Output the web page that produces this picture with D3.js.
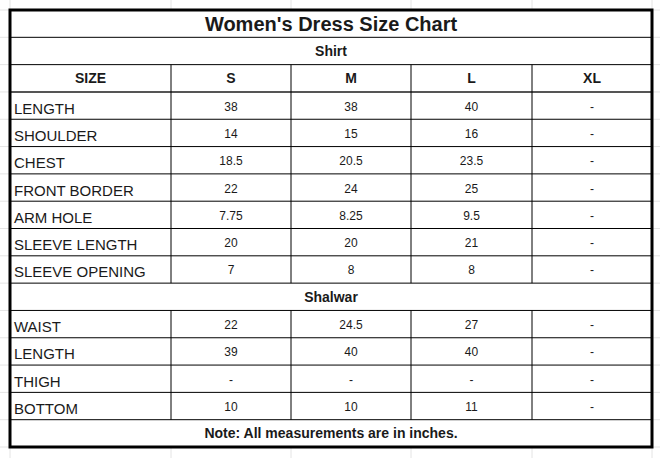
<!DOCTYPE html><html><head><meta charset="utf-8">
<script src="https://cdn.jsdelivr.net/npm/d3@7"></script>
<style>body{margin:0;background:#fff}</style></head><body>
<script>
const title="Women's Dress Size Chart";
const sizes=["S","M","L","XL"];
const shirtRows=["LENGTH","SHOULDER","CHEST","FRONT BORDER","ARM HOLE","SLEEVE LENGTH","SLEEVE OPENING"];
const shirtVals=[["38","38","40","-"],["14","15","16","-"],["18.5","20.5","23.5","-"],["22","24","25","-"],["7.75","8.25","9.5","-"],["20","20","21","-"],["7","8","8","-"]];
const shalwarRows=["WAIST","LENGTH","THIGH","BOTTOM"];
const shalwarVals=[["22","24.5","27","-"],["39","40","40","-"],["-","-","-","-"],["10","10","11","-"]];
const note="Note: All measurements are in inches.";

const W=660,H=458,L=10,R=652,T=10,B=447,N=16;
const svg=d3.select("body").append("svg").attr("width",W).attr("height",H).style("font-family","Arial, 'Liberation Sans', sans-serif");
const y=d3.scaleLinear().domain([0,N]).range([T,B]);
const cols=[L,171,291,411,532,R];
for(let i=-1;i<=N+1;i++) svg.append("line").attr("x1",0).attr("x2",W).attr("y1",y(i)).attr("y2",y(i)).attr("stroke","#e4e4e4");
cols.forEach(c=>svg.append("line").attr("x1",c).attr("x2",c).attr("y1",0).attr("y2",H).attr("stroke","#e4e4e4"));
svg.append("rect").attr("x",L).attr("y",T).attr("width",R-L).attr("height",B-T).attr("fill","#fff");
const g=svg.append("g");
function hline(i,w,c){g.append("line").attr("x1",L).attr("x2",R).attr("y1",y(i)).attr("y2",y(i)).attr("stroke",c||"#000").attr("stroke-width",w||1);}
function vlines(a,b){cols.slice(1,-1).forEach(c=>g.append("line").attr("x1",c).attr("x2",c).attr("y1",y(a)).attr("y2",y(b)).attr("stroke","#000"));}
function txt(x,i,s,o){g.append("text").attr("x",x).attr("y",y(i+0.5)+(o.dy||5)).attr("text-anchor",o.a||"middle").attr("font-size",o.fs||12).attr("font-weight",o.b?"bold":"normal").attr("fill","#1a1a1a").text(s);}
for(let i=1;i<N;i++) hline(i,i===3?2:1,i===3?"#555":"#000");
vlines(2,10);vlines(11,15);
const cx=j=>(cols[j+1]+cols[j+2])/2;
txt((L+R)/2,0,title,{fs:20,b:1,dy:7});
txt((L+R)/2,1,"Shirt",{fs:14,b:1});
txt((L+cols[1])/2,2,"SIZE",{fs:14,b:1});
sizes.forEach((s,j)=>txt(cx(j),2,s,{fs:14,b:1}));
shirtRows.forEach((r,i)=>{txt(L+4,3+i,r,{a:"start",fs:15,dy:8});shirtVals[i].forEach((v,j)=>txt(cx(j),3+i,v,{}));});
txt((L+R)/2,10,"Shalwar",{fs:14,b:1});
shalwarRows.forEach((r,i)=>{txt(L+4,11+i,r,{a:"start",fs:15,dy:8});shalwarVals[i].forEach((v,j)=>txt(cx(j),11+i,v,{}));});
txt((L+R)/2,15,note,{fs:14,b:1});
svg.append("rect").attr("x",L).attr("y",T).attr("width",R-L).attr("height",B-T).attr("fill","none").attr("stroke","#000").attr("stroke-width",3);
</script></body></html>
